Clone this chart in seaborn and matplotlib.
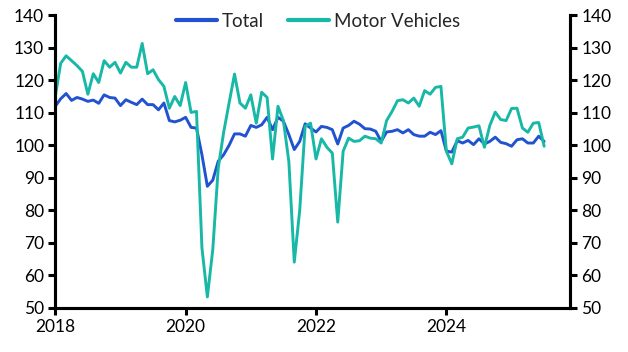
import numpy as np
import pandas as pd
import matplotlib
matplotlib.use("Agg")
import matplotlib.pyplot as plt
import seaborn as sns

# monthly index, Jan 2018 -> Jul 2025
total = [112, 114.3, 115.9, 113.8, 114.7, 114.2, 113.5, 113.9, 112.9, 115.5, 114.7, 114.5,
         112.2, 114, 113.2, 112.5, 114.2, 112.5, 112.5, 110.9, 113, 107.6, 107.2, 107.7,
         108.6, 105.5, 105.3, 97.1, 87.4, 89.3, 95.1, 97.1, 100, 103.5, 103.5, 102.8,
         106.1, 105.5, 106.3, 108.6, 104.8, 108.6, 107.4, 103.3, 98.7, 101.2, 106.6, 105.3,
         104.1, 105.8, 105.5, 104.8, 100.4, 105.3, 106.1, 107.4, 106.5, 105.1, 105, 104.3,
         101.2, 104.1, 104.3, 104.8, 103.8, 104.8, 103.3, 102.8, 102.8, 104, 103.3, 104.5,
         98.2, 97.9, 101.4, 100.7, 101.5, 100.2, 102, 100.4, 101.2, 102.5, 100.9, 100.5,
         99.7, 101.7, 102, 100.7, 100.7, 102.8, 101.2]
motor = [115, 125.2, 127.5, 126, 124.5, 122.7, 115.7, 122, 119.3, 126, 124, 125.5,
         122.2, 125.5, 124, 124, 131.3, 122, 123.2, 120.2, 118.1, 111.4, 115, 112.2,
         119.3, 110.1, 110.4, 68.5, 53.4, 68, 93, 104, 113, 121.9, 113, 111.4,
         115.5, 106.8, 116.3, 114.7, 95.8, 112, 107.6, 95, 64.1, 80, 105.8, 106.8,
         95.8, 102, 99.4, 97.6, 76.4, 98.2, 102.2, 101.2, 101.4, 102.8, 102.2, 102,
         100.7, 107.6, 110.4, 113.7, 114, 113, 114.5, 112, 116.8, 115.7, 117.8, 118.1,
         98.2, 94.3, 102, 102.5, 105.3, 105.6, 106, 99.4, 106.1, 110.2, 107.9, 107.6,
         111.3, 111.4, 105.3, 104, 106.8, 107, 99.7]

years = 2018 + np.arange(len(total)) / 12
df = pd.DataFrame({"year": np.concatenate([years, years]),
                   "value": total + motor,
                   "series": ["Total"] * len(total) + ["Motor Vehicles"] * len(motor)})

sns.set_style("white")
plt.rcParams['font.family'] = ['Lato', 'DejaVu Sans']

fig = plt.figure(figsize=(6.28, 3.52), dpi=100)
ax = fig.add_axes([0.088, 0.125, 0.82, 0.832])
sns.lineplot(data=df, x="year", y="value", hue="series", ax=ax,
             palette={"Total": "#2152cf", "Motor Vehicles": "#17b8a6"},
             linewidth=2.1)

ax.set_xlim(2018, 2025.9)
ax.set_ylim(50, 140)
ax.set_xticks([2018, 2020, 2022, 2024])
ax.set_xticklabels(["2018", "2020", "2022", "2024"])
ax.set_yticks(range(50, 141, 10))
ax.set_xlabel("")
ax.set_ylabel("")

ax2 = ax.twinx()
ax2.set_ylim(50, 140)
ax2.set_yticks(range(50, 141, 10))

for a in (ax, ax2):
    for s in ["left", "right", "bottom"]:
        a.spines[s].set_linewidth(2.2)
        a.spines[s].set_color("black")
    a.spines["top"].set_visible(False)
    a.tick_params(axis="both", direction="out", length=5, width=2.2,
                  labelsize=12.5, colors="black", pad=3)
ax.tick_params(axis="y", left=True, right=False)
ax.tick_params(axis="x", bottom=True)
ax2.tick_params(axis="y", right=True, left=False)

leg = ax.legend(loc="upper center", bbox_to_anchor=(0.51, 1.065), ncol=2, frameon=False,
                fontsize=13.5, handlelength=2.2, columnspacing=1.3, handletextpad=0.25)
for line in leg.get_lines():
    line.set_linewidth(3)

fig.savefig("out.png", dpi=100)
